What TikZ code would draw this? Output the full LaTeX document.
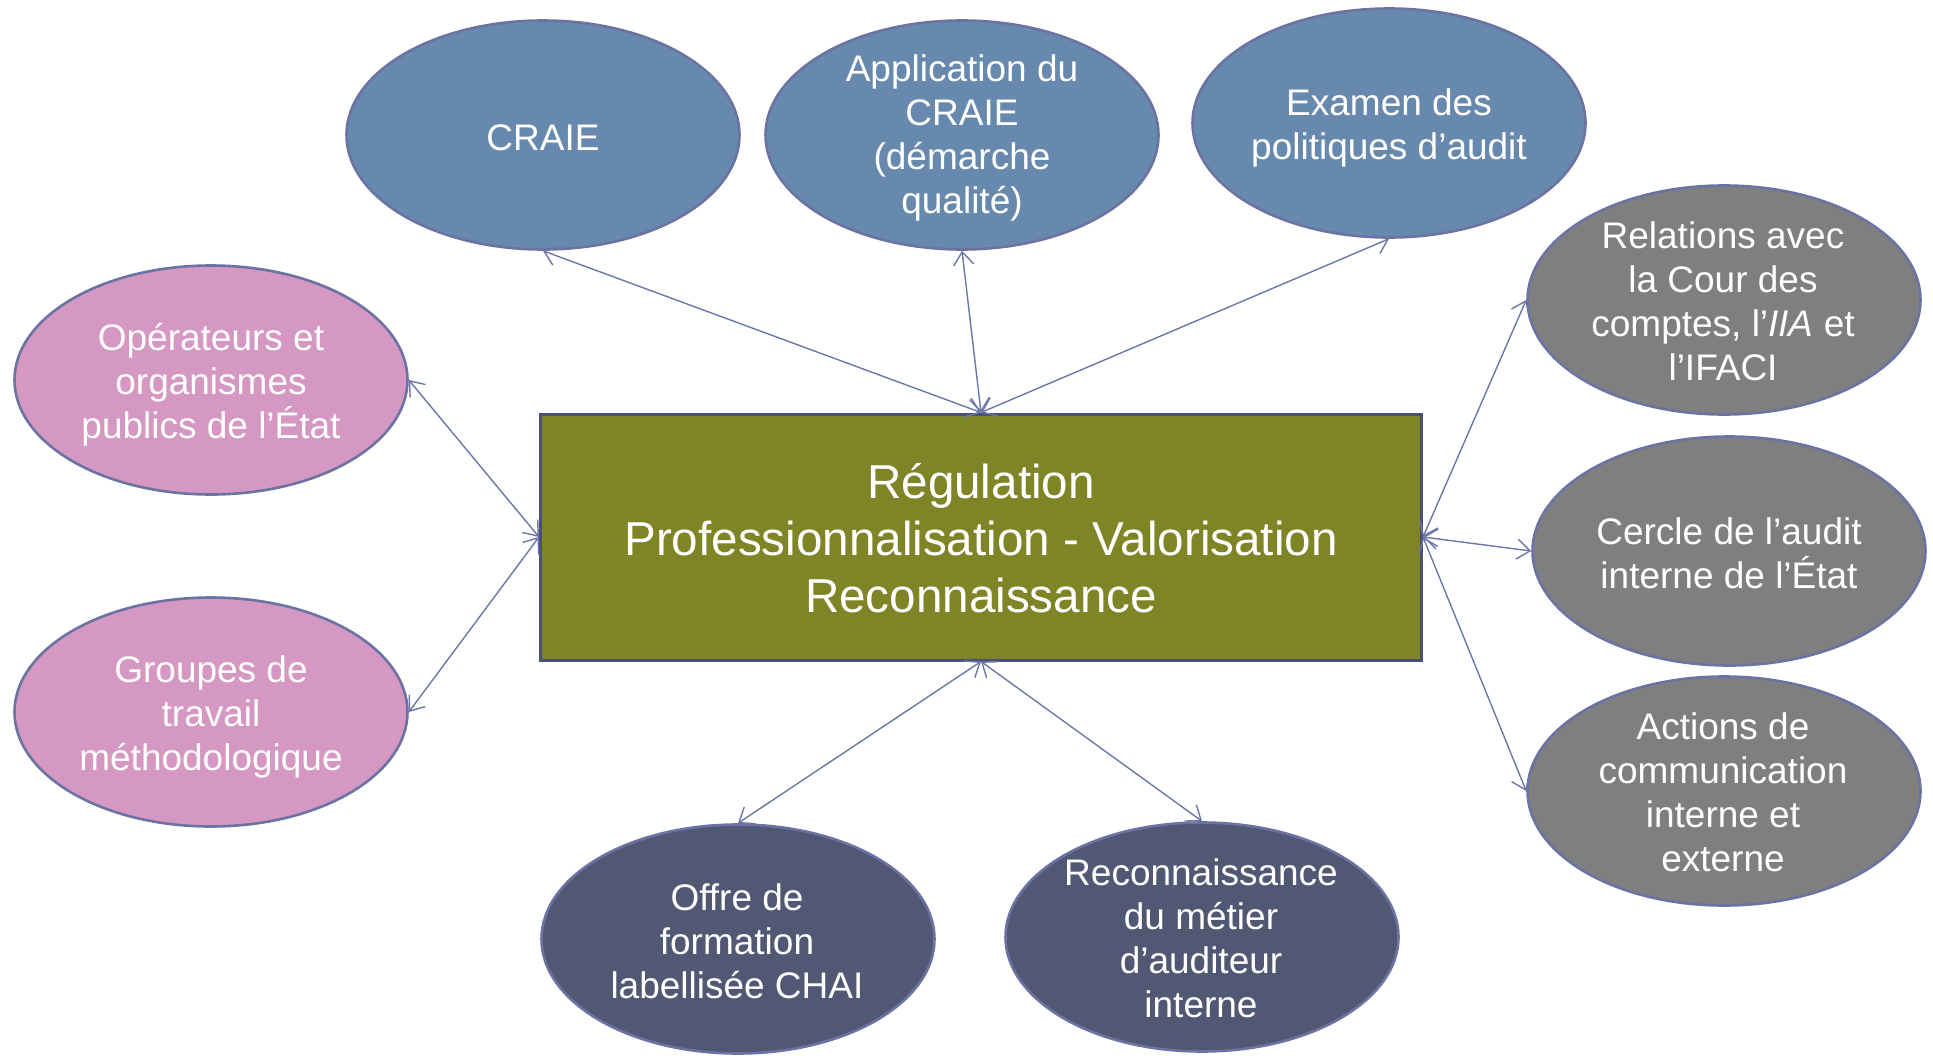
\documentclass[tikz,border=0pt]{standalone}
\usepackage{fontspec}
\setmainfont{Liberation Sans}
\usetikzlibrary{shapes.geometric,arrows.meta}
\definecolor{cblue}{HTML}{6789AE}
\definecolor{cpink}{HTML}{D498C2}
\definecolor{cgray}{HTML}{7F7F7F}
\definecolor{cnavy}{HTML}{505874}
\definecolor{colive}{HTML}{7F8427}
\definecolor{cedge}{HTML}{6B73A3}
\definecolor{crectedge}{HTML}{4A5174}
\definecolor{carrow}{HTML}{6B77A8}
\tikzset{
  bubble/.style={ellipse, draw=cedge, line width=2.6pt, minimum width=393pt, minimum height=229pt, inner sep=0pt},
  txt/.style={text=white, align=center, font=\fontsize{37}{44}\selectfont, inner sep=0pt},
  link/.style={draw=carrow, line width=1.4pt, {Straight Barb[length=13pt,width=20pt]}-{Straight Barb[length=13pt,width=20pt]}}
}
\begin{document}
\begin{tikzpicture}[x=1pt,y=-1pt]
\useasboundingbox (0,0) rectangle (1933,1055);
% center rectangle
\node[draw=crectedge, fill=colive, line width=3pt, minimum width=881pt, minimum height=246pt, inner sep=0pt] (main) at (981,537) {};
\node[text=white, align=center, font=\fontsize{47.6}{57}\selectfont, inner sep=0pt] (maintxt) at (981,538) {Régulation\\Professionnalisation - Valorisation\\Reconnaissance};
% ellipses
\node[bubble, fill=cblue] (craie) at (543,135) {};
\node[txt] (craiet) at (543,138) {CRAIE};
\node[bubble, fill=cblue] (appl) at (962,135) {};
\node[txt] (applt) at (962,138) {Application du\\CRAIE\\(démarche\\qualité)};
\node[bubble, fill=cblue] (exam) at (1389,123) {};
\node[txt] (examt) at (1389,128) {Examen des\\politiques d’audit};
\node[bubble, fill=cgray] (rel) at (1724,300) {};
\node[txt] (relt) at (1723,301) {Relations avec\\la Cour des\\comptes, l’\textit{IIA} et\\l’IFACI};
\node[bubble, fill=cgray] (cer) at (1729,551) {};
\node[txt] (cert) at (1729,553) {Cercle de l’audit\\interne de l’État};
\node[bubble, fill=cgray] (act) at (1724,791) {};
\node[txt] (actt) at (1723,792) {Actions de\\communication\\interne et\\externe};
\node[bubble, fill=cpink] (oper) at (211,380) {};
\node[txt] (opert) at (211,385) {Opérateurs et\\organismes\\publics de l’État};
\node[bubble, fill=cpink] (grp) at (211,712) {};
\node[txt] (grpt) at (211,717) {Groupes de\\travail\\méthodologique};
\node[bubble, fill=cnavy] (offre) at (738,939) {};
\node[txt] (offret) at (737,941) {Offre de\\formation\\labellisée CHAI};
\node[bubble, fill=cnavy] (reco) at (1202,937) {};
\node[txt] (recot) at (1201,938) {Reconnaissance\\du métier\\d’auditeur\\interne};
% connectors
\draw[link] (craie.south) -- (main.north);
\draw[link] (appl.south) -- (main.north);
\draw[link] (exam.south) -- (main.north);
\draw[link] (oper.east) -- (main.west);
\draw[link] (grp.east) -- (main.west);
\draw[link] (offre.north) -- (main.south);
\draw[link] (reco.north) -- (main.south);
\draw[link] (rel.west) -- (main.east);
\draw[link] (cer.west) -- (main.east);
\draw[link] (act.west) -- (main.east);
\end{tikzpicture}
\end{document}
